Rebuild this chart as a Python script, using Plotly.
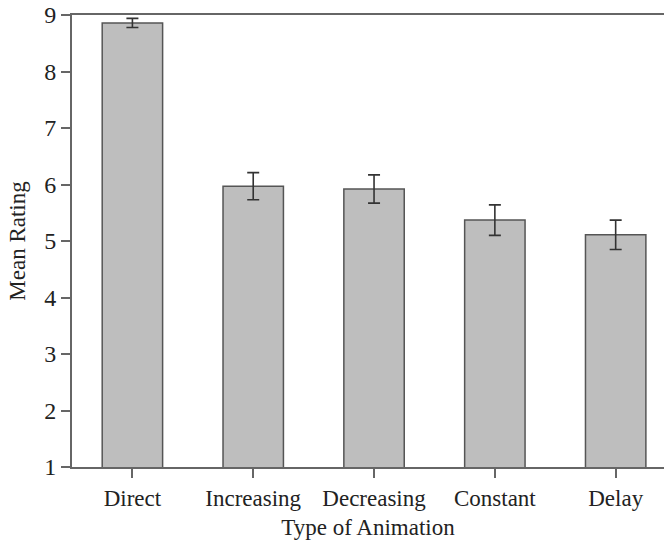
import plotly.graph_objects as go

categories = ["Direct", "Increasing", "Decreasing", "Constant", "Delay"]
mean_rating = [8.86, 5.97, 5.92, 5.37, 5.11]
std_error = [0.08, 0.24, 0.25, 0.27, 0.26]
y_ticks = [1, 2, 3, 4, 5, 6, 7, 8, 9]

AXIS = "#666666"
TEXT = "#222222"
SERIF = "Liberation Serif, Times New Roman, serif"

fig = go.Figure(
    go.Bar(
        x=list(range(len(categories))),
        y=mean_rating,
        width=0.5,
        marker=dict(color="#bebebe", line=dict(color="#555555", width=1.5)),
        error_y=dict(type="data", array=std_error, visible=True,
                     color="#333333", thickness=1.6, width=6),
    )
)

fig.update_layout(
    width=664, height=541,
    margin=dict(l=72, r=0, t=15, b=74),
    paper_bgcolor="white", plot_bgcolor="white",
    showlegend=False,
    font=dict(family=SERIF, size=23, color=TEXT),
)

fig.update_xaxes(
    range=[-0.5, 4.4],
    tickmode="array", tickvals=list(range(len(categories))), ticktext=categories,
    ticks="outside", ticklen=9, tickwidth=1.5, tickcolor=AXIS,
    showline=True, linecolor=AXIS, linewidth=2, mirror=True,
    showgrid=False, zeroline=False,
    tickfont=dict(family=SERIF, size=23, color=TEXT),
    title=dict(text="Type of Animation", standoff=9,
               font=dict(family=SERIF, size=23, color=TEXT)),
)

fig.update_yaxes(
    range=[1, 9],
    tickmode="array", tickvals=y_ticks,
    ticks="outside", ticklen=9, tickwidth=1.5, tickcolor=AXIS,
    showline=True, linecolor=AXIS, linewidth=2,
    showgrid=False, zeroline=False,
    tickfont=dict(family=SERIF, size=24, color=TEXT),
    title=dict(text="Mean Rating", standoff=12,
               font=dict(family=SERIF, size=23, color=TEXT)),
)

fig.write_html("out.html")
